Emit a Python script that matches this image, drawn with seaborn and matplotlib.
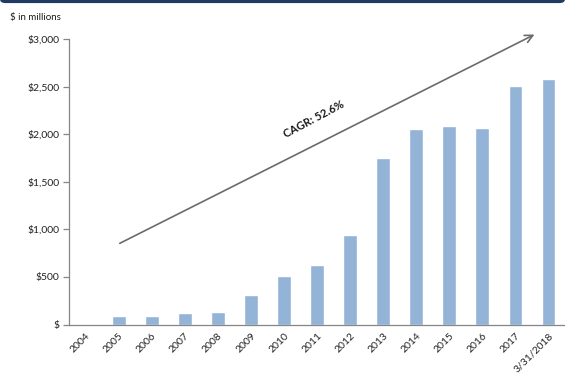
import matplotlib
matplotlib.use("Agg")
import matplotlib.pyplot as plt
from matplotlib.patches import FancyBboxPatch
import seaborn as sns
import pandas as pd

categories = ["2004", "2005", "2006", "2007", "2008", "2009", "2010", "2011",
              "2012", "2013", "2014", "2015", "2016", "2017", "3/31/2018"]
values = [0, 93, 90, 118, 129, 311, 515, 625, 942, 1755, 2050, 2085, 2065, 2508, 2578]
y_ticks = [0, 500, 1000, 1500, 2000, 2500, 3000]
y_tick_labels = ["$", "$500", "$1,000", "$1,500", "$2,000", "$2,500", "$3,000"]
cagr_label = "CAGR: 52.6%"
unit_label = "$ in millions"

sns.set_theme(style="white")
plt.rcParams["font.family"] = ["Lato", "DejaVu Sans"]

df = pd.DataFrame({"period": categories, "value": values})

fig = plt.figure(figsize=(5.65, 3.85), dpi=100)
ax = fig.add_axes([0.1221, 0.157, 0.878, 0.7417])

sns.barplot(data=df, x="period", y="value", color="#93b3d7", saturation=1,
            width=0.42, ax=ax, order=categories)

ax.set_xlim(-0.5, len(categories) - 0.5)
ax.set_ylim(0, 3000)
ax.set_xlabel("")
ax.set_ylabel("")

ax.set_yticks(y_ticks)
ax.set_yticklabels(y_tick_labels, fontsize=7.5, color="#222222")
ax.set_xticks(range(len(categories)))
ax.set_xticklabels(categories, rotation=45, ha="right", rotation_mode="anchor",
                   fontsize=7.5, color="#222222")
ax.set_xticks([i - 0.5 for i in range(len(categories) + 1)], minor=True)
ax.tick_params(axis="x", which="major", length=0, pad=5)
ax.tick_params(axis="x", which="minor", length=4, width=0.9, color="#868686", direction="out")
ax.tick_params(axis="y", which="major", length=4, width=0.9, color="#868686",
               direction="out", left=True, pad=3)

for s in ["top", "right"]:
    ax.spines[s].set_visible(False)
for s in ["left", "bottom"]:
    ax.spines[s].set_color("#868686")
    ax.spines[s].set_linewidth(0.9)

# CAGR arrow
ax.annotate("", xy=(13.65, 3060), xytext=(0.96, 840),
            arrowprops=dict(arrowstyle="->", color="#6b6b6b", lw=1.2,
                            mutation_scale=14),
            annotation_clip=False)
ax.text(6.9, 2160, cagr_label, rotation=28, ha="center", va="center",
        fontsize=8, fontweight="bold", color="#1a1a1a")

fig.text(0.018, 0.955, unit_label, fontsize=7, color="#1a1a1a", ha="left", va="center")

# Top navy band
band = FancyBboxPatch((0.0, 0.992), 1.0, 0.03, boxstyle="round,pad=0,rounding_size=0.01",
                      transform=fig.transFigure, facecolor="#1f3b63", edgecolor="none",
                      clip_on=False)
fig.patches.append(band)

fig.savefig("out.png", dpi=100)
